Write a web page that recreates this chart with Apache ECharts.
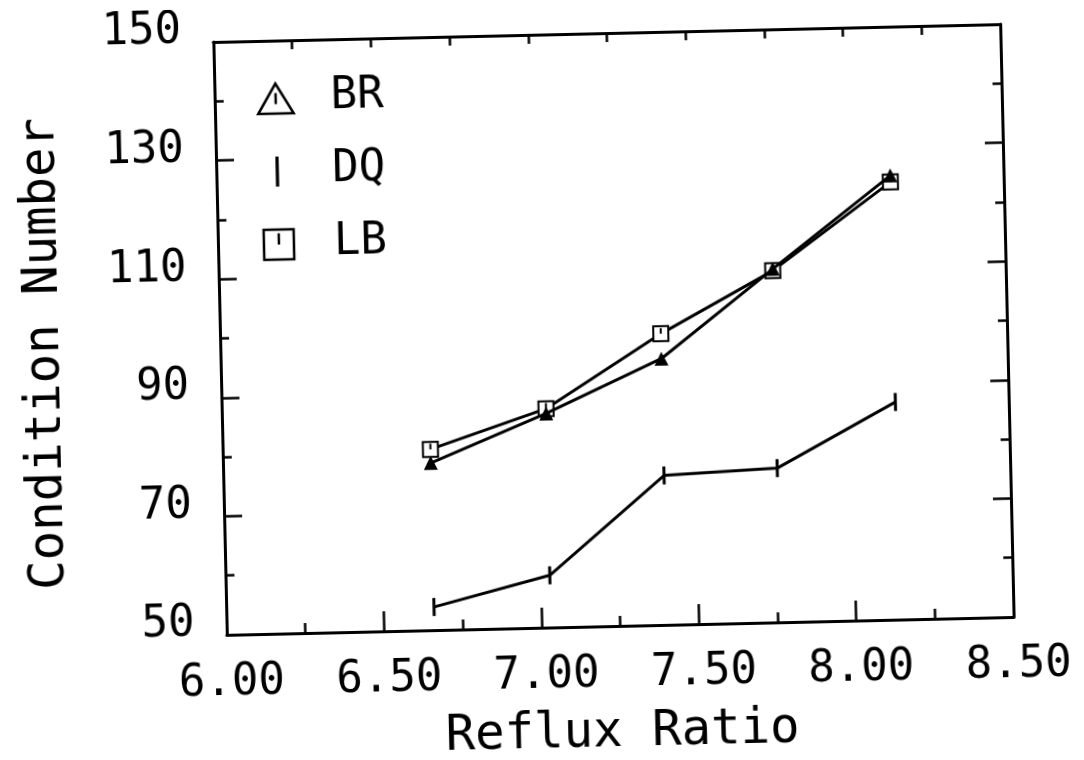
<!DOCTYPE html>
<html>
<head>
<meta charset="utf-8">
<script src="https://cdn.jsdelivr.net/npm/echarts@6/dist/echarts.min.js"></script>
<style>
  html, body { margin: 0; padding: 0; background: #fff; overflow: hidden; }
  /* the plotted page sits slightly askew */
  #chart { width: 1084px; height: 760px; transform: rotate(-1.3deg); transform-origin: 613px 330px; }
</style>
</head>
<body>
<div id="chart"></div>
<script>
// Reflux ratio for each run
const refluxRatio = [6.66, 7.03, 7.40, 7.76, 8.14];
// Condition number for each scaling method
const brValues = [78.2, 86.1, 94.9, 109.6, 124.9];
const dqValues = [53.9, 58.8, 75.2, 76.0, 86.7];
const lbValues = [80.5, 86.9, 99.1, 109.3, 123.8];
const legendNames = ['BR', 'DQ', 'LB'];

const FONT = 'DejaVu Sans Mono';
const INK = '#000';

const pairs = (xs, ys) => xs.map((x, i) => [x, ys[i]]);

// marker shapes: open triangle / square with a short inner stroke, and a plain bar
const triIcon = 'path://M0,22L13,0L26,22Z M13,7L13,15';
const sqIcon = 'path://M0,0L24,0L24,24L0,24Z M12,3L12,12';
const barIcon = 'path://M0,0L3.5,0L3.5,32L0,32Z';

const axisLine = { show: true, onZero: false, lineStyle: { color: INK, width: 3 } };
const tickLine = { color: INK, width: 2.5 };

const chart = echarts.init(document.getElementById('chart'), null, { renderer: 'canvas' });

chart.setOption({
  animation: false,
  backgroundColor: '#fff',
  grid: { left: 220, top: 33, width: 787, height: 593, containLabel: false, outerBoundsMode: 'none' },
  legend: {
    orient: 'vertical',
    left: 257,
    top: 64,
    itemWidth: 100,
    itemHeight: 30,
    itemGap: 29,
    selectedMode: false,
    textStyle: { fontFamily: FONT, fontSize: 44, color: INK, lineHeight: 44 },
    data: [
      { name: legendNames[0], icon: triIcon, itemStyle: { color: '#fff', borderColor: INK, borderWidth: 2.5 } },
      { name: legendNames[1], icon: barIcon, itemStyle: { color: INK, borderWidth: 0 } },
      { name: legendNames[2], icon: sqIcon, itemStyle: { color: '#fff', borderColor: INK, borderWidth: 2.5 } }
    ]
  },
  xAxis: [
    {
      type: 'value', position: 'bottom', min: 6, max: 8.5, interval: 0.5,
      axisLine: axisLine,
      axisTick: { show: true, inside: true, length: 20, lineStyle: tickLine },
      minorTick: { show: true, splitNumber: 2, length: 10, lineStyle: tickLine },
      splitLine: { show: false },
      axisLabel: {
        formatter: v => v.toFixed(2), fontFamily: FONT, fontSize: 44, color: INK,
        margin: 27, padding: [0, 0, 0, 8]
      },
      name: 'Reflux Ratio', nameLocation: 'middle', nameGap: 83,
      nameTextStyle: { fontFamily: FONT, fontSize: 49, color: INK }
    },
    {
      type: 'value', position: 'top', min: 6, max: 8.5, interval: 0.5,
      axisLine: axisLine,
      axisTick: { show: true, inside: true, length: 9, lineStyle: tickLine },
      minorTick: { show: true, splitNumber: 2, length: 9, lineStyle: tickLine },
      splitLine: { show: false },
      axisLabel: { show: false }
    }
  ],
  yAxis: [
    {
      type: 'value', position: 'left', min: 50, max: 150, interval: 20,
      axisLine: axisLine,
      axisTick: { show: true, inside: true, length: 18, lineStyle: tickLine },
      minorTick: { show: true, splitNumber: 2, length: 9, lineStyle: tickLine },
      splitLine: { show: false },
      axisLabel: {
        fontFamily: FONT, fontSize: 44, color: INK, margin: 32,
        verticalAlign: 'bottom', lineHeight: 22
      },
      name: 'Condition Number', nameLocation: 'middle', nameGap: 150, nameRotate: 90,
      nameTextStyle: { fontFamily: FONT, fontSize: 49, color: INK, padding: [0, 23, 0, 0] }
    },
    {
      type: 'value', position: 'right', min: 50, max: 150, interval: 20,
      axisLine: axisLine,
      axisTick: { show: true, inside: true, length: 18, lineStyle: tickLine },
      minorTick: { show: true, splitNumber: 2, length: 9, lineStyle: tickLine },
      splitLine: { show: false },
      axisLabel: { show: false }
    }
  ],
  series: [
    {
      name: 'LB', type: 'line', data: pairs(refluxRatio, lbValues),
      symbol: sqIcon, symbolSize: 15,
      itemStyle: { color: '#fff', borderColor: INK, borderWidth: 2 },
      lineStyle: { color: INK, width: 3 },
      emphasis: { disabled: true }, z: 2
    },
    {
      name: 'BR', type: 'line', data: pairs(refluxRatio, brValues),
      symbol: 'triangle', symbolSize: 14,
      itemStyle: { color: INK },
      lineStyle: { color: INK, width: 3 },
      emphasis: { disabled: true }, z: 3
    },
    {
      name: 'DQ', type: 'line', data: pairs(refluxRatio, dqValues),
      symbol: 'rect', symbolSize: [3, 18],
      itemStyle: { color: INK },
      lineStyle: { color: INK, width: 3 },
      emphasis: { disabled: true }, z: 3
    }
  ]
});
</script>
</body>
</html>
